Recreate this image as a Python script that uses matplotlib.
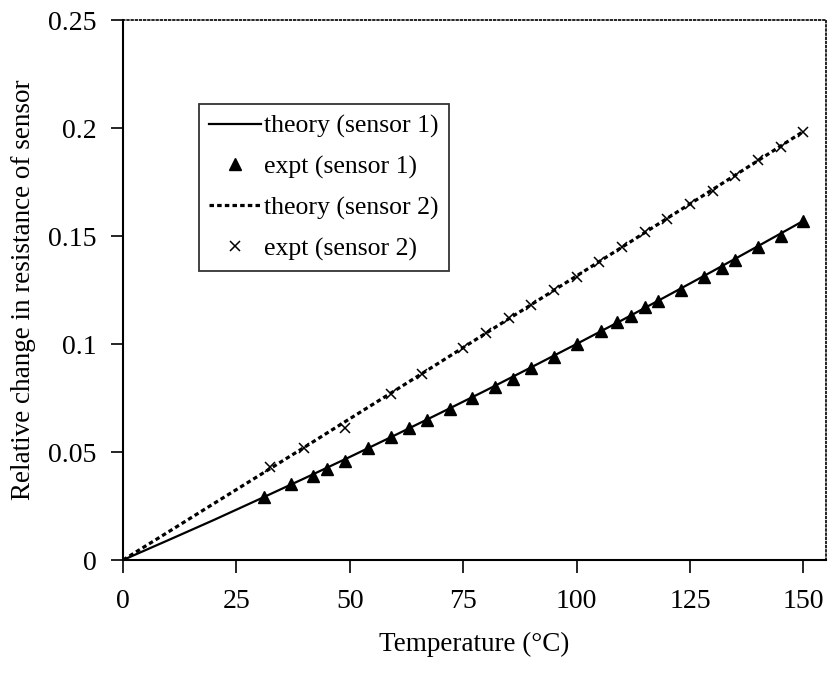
import numpy as np
import matplotlib.pyplot as plt

plt.rcParams['font.family'] = ['Liberation Serif', 'DejaVu Serif']

# theory curves (read every 10 degC)
temp_theory = [0, 10, 20, 30, 40, 50, 60, 70, 80, 90, 100, 110, 120, 130, 140, 150]
theory_s1 = [0, 0.0092, 0.0185, 0.0281, 0.0378, 0.0477, 0.0578, 0.0681,
             0.0785, 0.0892, 0.1000, 0.1110, 0.1223, 0.1337, 0.1453, 0.1570]
theory_s2 = [0, 0.0130, 0.0261, 0.0391, 0.0522, 0.0654, 0.0785, 0.0917,
             0.1050, 0.1182, 0.1315, 0.1448, 0.1582, 0.1715, 0.1849, 0.1984]

# measured points, sensor 1
temp_s1 = [31, 37, 42, 45, 49, 54, 59, 63, 67, 72, 77, 82, 86, 90, 95, 100,
           105.5, 109, 112, 115, 118, 123, 128, 132, 135, 140, 145, 150]
expt_s1 = [0.029, 0.035, 0.039, 0.042, 0.046, 0.052, 0.057, 0.061, 0.065,
           0.070, 0.075, 0.080, 0.084, 0.089, 0.094, 0.100, 0.106, 0.110,
           0.113, 0.117, 0.120, 0.125, 0.131, 0.135, 0.139, 0.145, 0.150, 0.157]

# measured points, sensor 2
temp_s2 = [32.5, 40, 49, 59, 66, 75, 80, 85, 90, 95, 100, 105, 110, 115,
           120, 125, 130, 135, 140, 145, 150]
expt_s2 = [0.043, 0.052, 0.061, 0.077, 0.086, 0.098, 0.105, 0.112, 0.118,
           0.125, 0.131, 0.138, 0.145, 0.152, 0.158, 0.165, 0.171, 0.178,
           0.185, 0.191, 0.198]

x_ticks = [0, 25, 50, 75, 100, 125, 150]
y_ticks = [0, 0.05, 0.1, 0.15, 0.2, 0.25]
y_tick_labels = ['0', '0.05', '0.1', '0.15', '0.2', '0.25']

fig = plt.figure(figsize=(8.29, 6.76), dpi=100)
ax = fig.add_axes([123 / 829, 1 - 560 / 676, 703 / 829, 540 / 676])

ax.plot(temp_theory, theory_s1, '-', color='black', lw=1.6, label='theory (sensor 1)')
ax.plot(temp_s1, expt_s1, '^', color='black', ms=8.5, ls='none', label='expt (sensor 1)')
ax.plot(temp_theory, theory_s2, color='black', lw=2.3, ls=(0, (1.4, 1.0)), label='theory (sensor 2)')
ax.plot(temp_s2, expt_s2, 'x', color='black', ms=7.5, mew=1.1, ls='none', label='expt (sensor 2)')

ax.set_xlim(0, 155)
ax.set_ylim(0, 0.25)
ax.set_xticks(x_ticks)
ax.set_yticks(y_ticks)
ax.set_yticklabels(y_tick_labels)
ax.tick_params(direction='out', length=9, width=1.2, labelsize=20, colors='black')
ax.tick_params(axis='x', pad=12)
ax.tick_params(axis='y', pad=10)

for side in ['left', 'bottom']:
    ax.spines[side].set_linewidth(1.5)
for side in ['top', 'right']:
    ax.spines[side].set_linestyle((0, (1, 1.5)))
    ax.spines[side].set_linewidth(1.2)

ax.set_xlabel('Temperature (°C)', fontsize=19.5, labelpad=13)
ax.set_ylabel('Relative change in resistance of sensor', fontsize=19.5, labelpad=9)

leg = ax.legend(loc='upper left', bbox_to_anchor=(0.108, 0.844), fontsize=18.5,
                frameon=True, fancybox=False, edgecolor='black', handlelength=2.0,
                handletextpad=0.15, labelspacing=0.68, borderpad=0.4, borderaxespad=0)
leg.get_frame().set_linewidth(1.3)

plt.savefig('out.png', dpi=100)
